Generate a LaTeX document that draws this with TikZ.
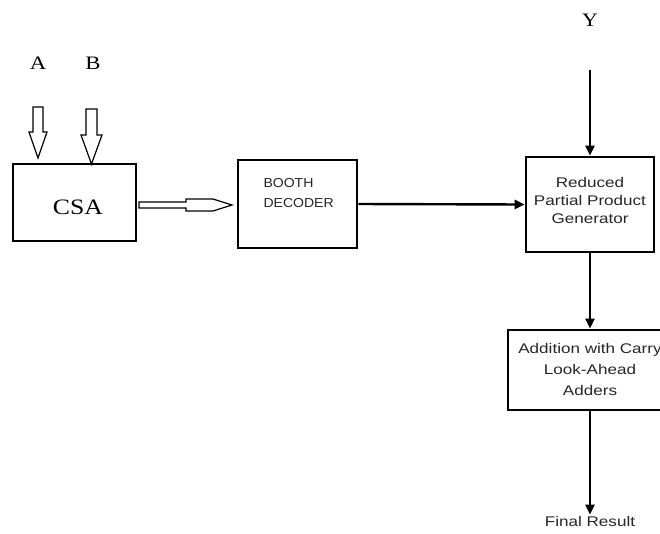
\documentclass[tikz,border=0pt]{standalone}
\usepackage{fontspec}
\setmainfont{Liberation Serif}
\setsansfont{Liberation Sans}
\usetikzlibrary{arrows.meta}
\newcommand\wide[2][1.22]{\scalebox{#1}[1]{#2}}
\begin{document}
\begin{tikzpicture}[x=1pt,y=-1pt,
  blk/.style={draw,line width=2.6pt,inner sep=0pt},
  lbl/.style={font=\sffamily\fontsize{14}{19}\selectfont,align=center,text=black!85},
  ser/.style={font=\fontsize{19}{21}\selectfont},
  conn/.style={line width=2.4pt,-{Triangle[length=10pt,width=9pt]}},
  hollow/.style={draw,line width=1.2pt,fill=white,line join=miter}]
\useasboundingbox (0,0) rectangle (660,533);
\clip (0,0) rectangle (660,533);

% boxes
\node[draw,line width=1.6pt,minimum width=123pt,minimum height=77pt,inner sep=0pt] (csa) at (74.5,202.5) {};
\node[font=\fontsize{22}{24}\selectfont] (csat) at (78,207) {\wide[1.17]{CSA}};

\node[blk,minimum width=119pt,minimum height=88pt] (booth) at (297.5,204) {};
\node[lbl,font=\sffamily\fontsize{13}{20}\selectfont,align=left,anchor=west] (bootht) at (260,193) {\wide[1.08]{BOOTH}\\\wide[1.08]{DECODER}};

\node[blk,minimum width=128pt,minimum height=95pt] (red) at (590,204.5) {};
\node[lbl,font=\sffamily\fontsize{14}{18}\selectfont] (redt) at (590,200) {\wide{Reduced}\\\wide{Partial Product}\\\wide{Generator}};

\node[blk,minimum width=164pt,minimum height=80pt] (add) at (590,370) {};
\node[lbl,font=\sffamily\fontsize{14}{21}\selectfont] (addt) at (590,369) {\wide{Addition with Carry}\\\wide{Look-Ahead}\\\wide{Adders}};

\node[lbl,inner sep=1pt] (fin) at (590,521) {\wide{Final Result}};

% labels
\node[ser] (A) at (38,63) {\wide[1.2]{A}};
\node[ser] (B) at (93,63) {\wide[1.2]{B}};
\node[ser] (Y) at (590,20) {\wide[1.15]{Y}};

% hollow arrows
\draw[hollow] (33,107)--(43,107)--(43,132)--(47,132)--(38,158)--(29,132)--(33,132)--cycle;
\draw[hollow] (86,109)--(97,109)--(97,135)--(102,135)--(91.5,164)--(81,135)--(86,135)--cycle;
\draw[hollow] (139,202)--(186,202)--(186,199)--(213,199)--(232,205)--(213,211)--(186,211)--(186,208)--(139,208)--cycle;

% connectors
\coordinate (ytop) at (590,70);
\draw[conn] (booth.east) -- (red.west);
\draw[conn] (ytop) -- (red.north);
\draw[conn] (red.south) -- (add.north);
\draw[conn] (add.south) -- (fin.north);
\end{tikzpicture}
\end{document}
